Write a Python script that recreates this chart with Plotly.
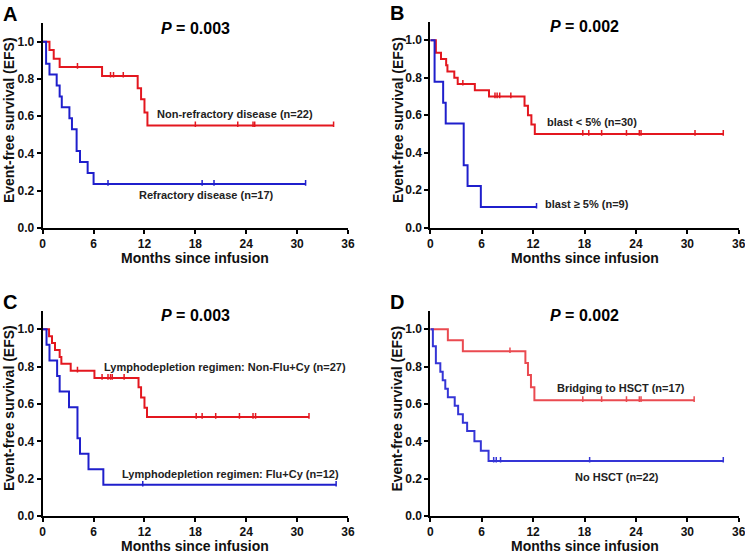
import plotly.graph_objects as go

# Kaplan-Meier step data (months, survival)
a_red_t = [0, 0.8, 1.3, 2.0, 7.0, 11.2, 11.6, 12.0, 12.35]
a_red_s = [1.0, 0.955, 0.909, 0.864, 0.816, 0.75, 0.69, 0.62, 0.55]
a_red_cens = [4.1, 8.0, 8.35, 9.5, 18.0, 23.0, 24.8, 25.0, 34.3]
a_blue_t = [0, 0.4, 0.8, 1.65, 2.0, 2.25, 3.15, 3.45, 4.0, 4.4, 5.3, 6.0]
a_blue_s = [1.0, 0.882, 0.824, 0.765, 0.706, 0.647, 0.588, 0.529, 0.412, 0.353, 0.294, 0.235]
a_blue_cens = [7.7, 18.8, 20.2, 31.0]

b_red_t = [0, 0.65, 1.25, 1.85, 2.0, 2.8, 3.2, 5.2, 6.85, 11.0, 11.4, 11.8, 12.2]
b_red_s = [1.0, 0.933, 0.9, 0.867, 0.833, 0.8, 0.767, 0.733, 0.70, 0.65, 0.60, 0.55, 0.50]
b_red_cens = [3.8, 7.55, 7.8, 8.1, 9.4, 17.8, 18.5, 20.0, 22.9, 24.4, 24.6, 30.9, 34.2]
b_blue_t = [0, 0.5, 1.5, 1.8, 3.9, 4.35, 5.9]
b_blue_s = [1.0, 0.778, 0.667, 0.556, 0.333, 0.222, 0.111]
b_blue_cens = [12.4]

c_red_t = [0, 0.75, 1.1, 1.45, 2.0, 2.2, 3.3, 6.1, 11.3, 11.6, 12.0, 12.3]
c_red_s = [1.0, 0.963, 0.926, 0.889, 0.852, 0.815, 0.778, 0.739, 0.69, 0.635, 0.58, 0.53]
c_red_cens = [4.1, 7.0, 7.7, 8.0, 8.2, 9.6, 18.1, 18.8, 20.4, 23.2, 24.8, 25.1, 31.4]
c_blue_t = [0, 0.45, 0.8, 1.7, 2.0, 3.1, 4.1, 4.4, 5.4, 7.15]
c_blue_s = [1.0, 0.917, 0.833, 0.75, 0.667, 0.583, 0.417, 0.333, 0.25, 0.167]
c_blue_cens = [11.8, 34.6]

d_red_t = [0, 2.05, 3.8, 11.1, 11.4, 11.75, 12.15]
d_red_s = [1.0, 0.941, 0.882, 0.82, 0.755, 0.69, 0.62]
d_red_cens = [9.3, 17.8, 20.0, 22.9, 24.4, 24.6, 30.8]
d_blue_t = [0, 0.3, 0.65, 1.17, 1.45, 1.75, 2.05, 2.85, 3.25, 3.8, 4.3, 5.15, 5.9, 6.8]
d_blue_s = [1.0, 0.909, 0.818, 0.773, 0.727, 0.682, 0.636, 0.591, 0.545, 0.50, 0.455, 0.40, 0.35, 0.295]
d_blue_cens = [7.4, 7.7, 8.2, 18.6, 34.2]

panel_letters = ["A", "B", "C", "D"]
p_values = ["0.003", "0.002", "0.003", "0.002"]
red_labels = ["Non-refractory disease (n=22)", "blast &lt; 5% (n=30)",
              "Lymphodepletion regimen: Non-Flu+Cy (n=27)", "Bridging to HSCT (n=17)"]
blue_labels = ["Refractory disease (n=17)", "blast ≥ 5% (n=9)",
               "Lymphodepletion regimen: Flu+Cy (n=12)", "No HSCT (n=22)"]
x_ticks = [0, 6, 12, 18, 24, 30, 36]
y_ticks = [0.0, 0.2, 0.4, 0.6, 0.8, 1.0]

W, H = 745, 554
FONT = "Arial, Liberation Sans, sans-serif"

def px(x):
    return x / W

def py(y):
    return 1 - y / H

def step_at(t, s, x):
    v = s[0]
    for ti, si in zip(t, s):
        if ti <= x:
            v = si
    return v

panels = [
    dict(red=(a_red_t, a_red_s, a_red_cens), blue=(a_blue_t, a_blue_s, a_blue_cens),
         x0=42.7, x1=348, y0=227.7, y1=23.1, red_col="#e3171f", blue_col="#1f1fcc",
         red_lab=(235, 114), blue_lab=(206, 195)),
    dict(red=(b_red_t, b_red_s, b_red_cens), blue=(b_blue_t, b_blue_s, b_blue_cens),
         x0=430.3, x1=738.7, y0=227.7, y1=21.5, red_col="#e3171f", blue_col="#1f1fcc",
         red_lab=(592, 122), blue_lab=(587, 204)),
    dict(red=(c_red_t, c_red_s, c_red_cens), blue=(c_blue_t, c_blue_s, c_blue_cens),
         x0=42.7, x1=348, y0=516, y1=310.6, red_col="#e3171f", blue_col="#1f1fcc",
         red_lab=(225, 367), blue_lab=(230, 474)),
    dict(red=(d_red_t, d_red_s, d_red_cens), blue=(d_blue_t, d_blue_s, d_blue_cens),
         x0=430.3, x1=738.7, y0=516, y1=310.6, red_col="#ea4a50", blue_col="#3535d6",
         red_lab=(621, 388), blue_lab=(617, 477)),
]

fig = go.Figure()
annotations = []
layout = {}

for i, p in enumerate(panels):
    k = "" if i == 0 else str(i + 1)
    xa, ya = "x" + k, "y" + k
    for key in ["red", "blue"]:
        t, s, cens = p[key]
        col = p[key + "_col"]
        end = max(cens[-1], t[-1])
        fig.add_trace(go.Scatter(
            x=t + [end], y=s + [s[-1]], mode="lines", line_shape="hv",
            line=dict(color=col, width=2), xaxis=xa, yaxis=ya, showlegend=False,
            hoverinfo="skip"))
        fig.add_trace(go.Scatter(
            x=cens, y=[step_at(t, s, c) + 0.006 for c in cens], mode="markers",
            marker=dict(symbol="line-ns", size=4, line=dict(color=col, width=1.5)),
            xaxis=xa, yaxis=ya, showlegend=False, hoverinfo="skip"))

    axis_common = dict(showline=True, linecolor="black", linewidth=2, ticks="outside",
                       ticklen=4, tickwidth=2, tickcolor="black", showgrid=False,
                       zeroline=False, automargin=False, ticklabeloverflow="allow",
                       tickfont=dict(family=FONT, size=12, color="#111"))
    layout["xaxis" + k] = dict(axis_common, domain=[px(p["x0"]), px(p["x1"])],
                               range=[0, 36], tickvals=x_ticks, anchor=ya,
                               ticktext=["<b>%d</b>" % v for v in x_ticks])
    layout["yaxis" + k] = dict(axis_common, domain=[py(p["y0"]), py(p["y1"])],
                               range=[0, 1.1], tickvals=y_ticks, anchor=xa,
                               ticktext=["<b>%.1f</b>" % v for v in y_ticks])

    top = p["y1"]
    xc = (p["x0"] + p["x1"]) / 2
    annotations += [
        dict(text="<b>" + panel_letters[i] + "</b>", x=px(p["x0"] - 42),
             y=py(max(top - 22, 0)), xanchor="left", yanchor="top",
             font=dict(size=20, color="black")),
        dict(text="<b><i>P</i> = " + p_values[i] + "</b>", x=px(xc), y=py(top + 5),
             xanchor="center", yanchor="middle", font=dict(size=16, color="black")),
        dict(text="<b>Months since infusion</b>", x=px(xc), y=py(p["y0"] + 30),
             xanchor="center", yanchor="middle", font=dict(size=14, color="#111")),
        dict(text="<b>Event-free survival (EFS)</b>", x=px(p["x0"] - 33),
             y=py((p["y0"] + top) / 2 - 5), textangle=-90,
             xanchor="center", yanchor="middle", font=dict(size=14, color="#111")),
        dict(text="<b>" + red_labels[i] + "</b>", x=px(p["red_lab"][0]), y=py(p["red_lab"][1]),
             xanchor="center", yanchor="middle", font=dict(size=11, color="#222")),
        dict(text="<b>" + blue_labels[i] + "</b>", x=px(p["blue_lab"][0]), y=py(p["blue_lab"][1]),
             xanchor="center", yanchor="middle", font=dict(size=11, color="#222")),
    ]

for a in annotations:
    a.update(xref="paper", yref="paper", showarrow=False)
    a["font"]["family"] = FONT

fig.update_layout(width=W, height=H, margin=dict(l=0, r=0, t=0, b=0),
                  plot_bgcolor="white", paper_bgcolor="white",
                  font=dict(family=FONT), annotations=annotations, **layout)

# the page body has a default 8px margin; drop it so the figure fills the window
fig.write_html("out.html", config={"displayModeBar": False},
               post_script="document.body.style.margin='0';")
